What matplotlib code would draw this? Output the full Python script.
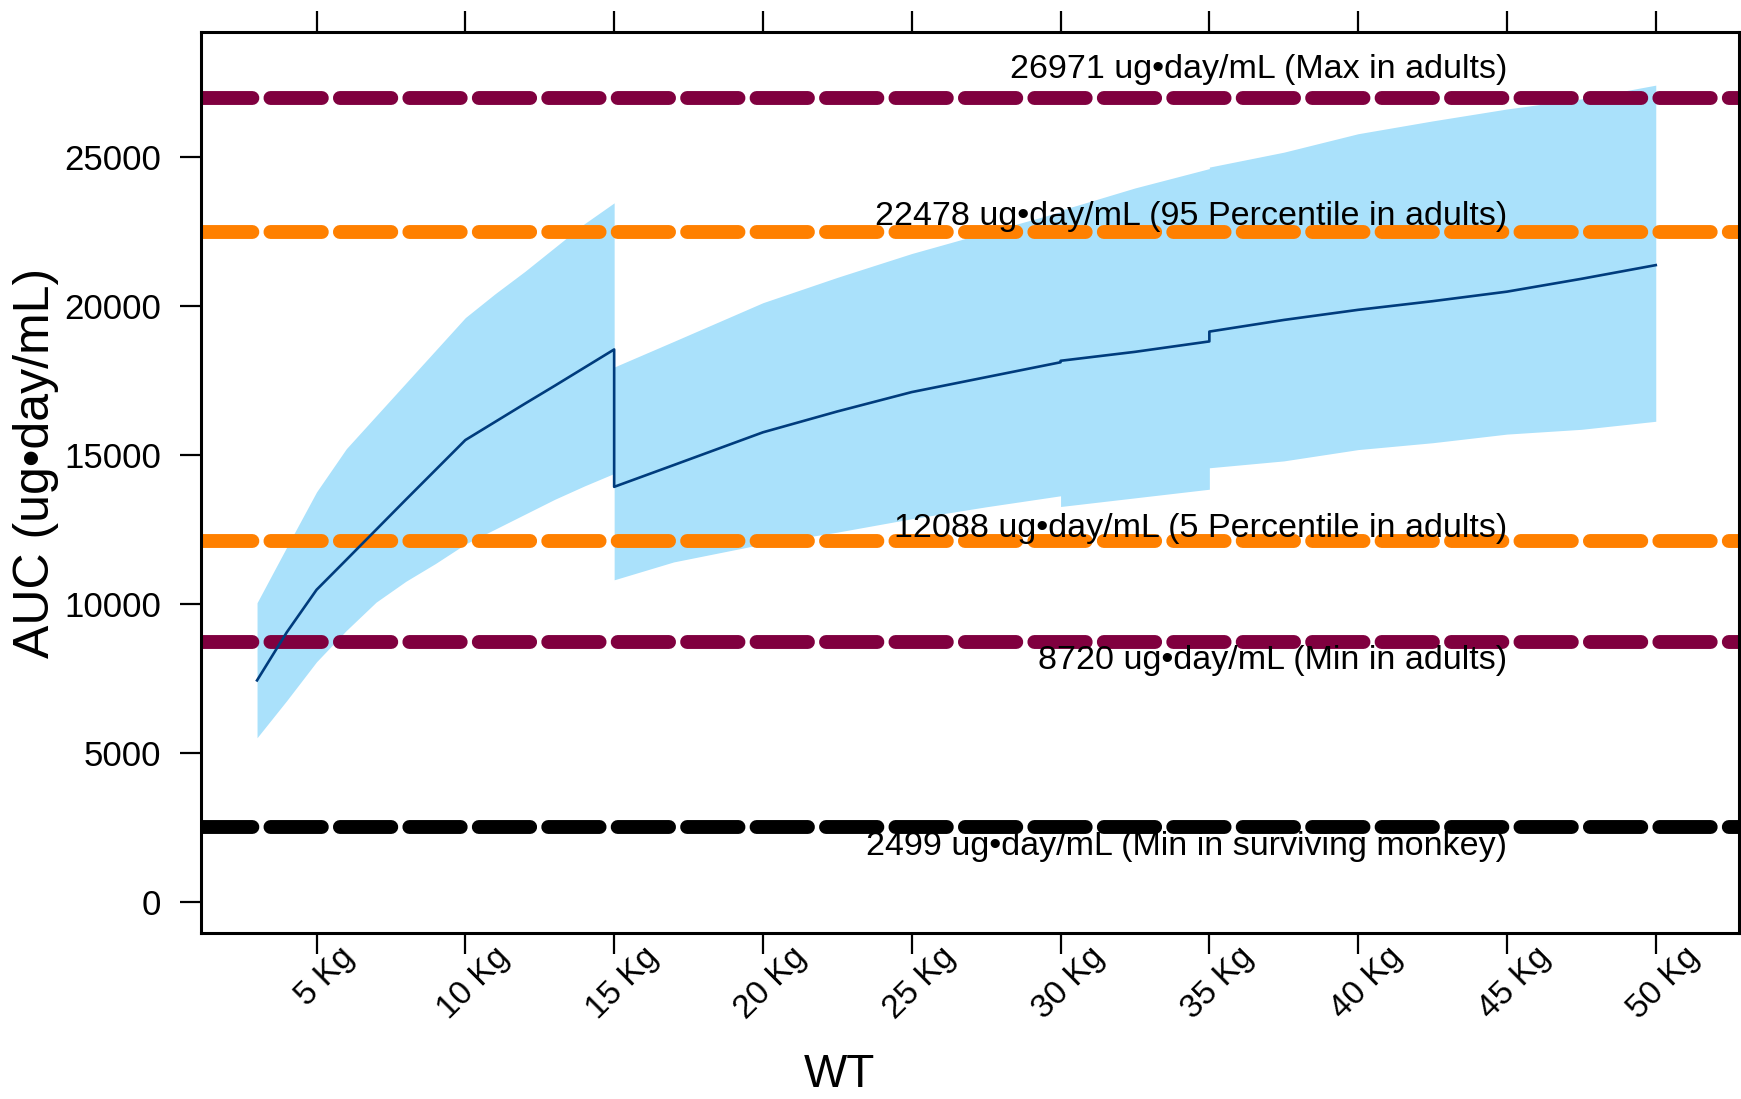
import matplotlib
matplotlib.use('Agg')
import matplotlib.pyplot as plt
import matplotlib.transforms as mtrans

# weight (kg) and AUC median / 5th / 95th percentile, first dosing band (3-15 kg)
wt_a = [3, 4, 5, 6, 7, 8, 9, 10, 11, 12, 13, 14, 15]
med_a = [7425, 9040, 10465, 11470, 12480, 13490, 14490, 15490, 16100, 16710, 17310, 17920, 18530]
lo_a = [5500, 6750, 8050, 9100, 10050, 10750, 11350, 12000, 12500, 13000, 13500, 13950, 14370]
hi_a = [10030, 11900, 13750, 15200, 16300, 17400, 18500, 19600, 20400, 21150, 21950, 22750, 23450]

# second dosing band (15-50 kg)
wt_b = [15, 17, 20, 22.5, 25, 27.5, 30, 30, 32.5, 35, 35, 37.5, 40, 42.5, 45, 47.5, 50]
med_b = [13920, 14650, 15750, 16450, 17100, 17600, 18100, 18150, 18450, 18800, 19130, 19520, 19860, 20150, 20470, 20900, 21360]
lo_b = [10800, 11400, 12000, 12400, 12850, 13250, 13620, 13260, 13550, 13840, 14560, 14790, 15170, 15400, 15690, 15850, 16120]
hi_b = [17940, 18800, 20100, 20950, 21750, 22450, 23150, 23200, 23950, 24600, 24650, 25150, 25770, 26200, 26600, 26940, 27400]

# reference exposures
ref_vals = [26971, 22478, 12088, 8720, 2499]
ref_cols = ['#80003f', '#ff8000', '#ff8000', '#80003f', '#000000']
ref_text = ['26971 ug\u2022day/mL (Max in adults)',
            '22478 ug\u2022day/mL (95 Percentile in adults)',
            '12088 ug\u2022day/mL (5 Percentile in adults)',
            '8720 ug\u2022day/mL (Min in adults)',
            '2499 ug\u2022day/mL (Min in surviving monkey)']
ref_off = [950, 500, 430, -640, -640]

xticks = [5, 10, 15, 20, 25, 30, 35, 40, 45, 50]
xlabels = ['%d Kg' % v for v in xticks]
yticks = [0, 5000, 10000, 15000, 20000, 25000]

fam = ['Liberation Sans', 'DejaVu Sans']

fig = plt.figure(figsize=(17.41, 10.99), dpi=100)
ax = fig.add_axes([0.1155, 0.151, 0.8834, 0.8199])

band = '#aae1fb'
ax.fill_between(wt_a, lo_a, hi_a, color=band, lw=0, zorder=1)
ax.fill_between(wt_b, lo_b, hi_b, color=band, lw=0, zorder=1)
ax.plot(wt_a + wt_b, med_a + med_b, color='#003c7d', lw=1.9, zorder=3)

for v, c in zip(ref_vals, ref_cols):
    ax.axhline(v, color=c, lw=10, dashes=(3.7, 1.3), dash_capstyle='round', zorder=2)
for v, t, o in zip(ref_vals, ref_text, ref_off):
    ax.text(45, v + o, t, ha='right', va='center', fontsize=24.5, family=fam, zorder=4)

ax.set_xlim(1.12, 52.8)
ax.set_ylim(-1054, 29184)
ax.set_xticks(xticks)
ax.set_xticklabels(xlabels, rotation=45, ha='center', va='top', fontsize=24, family=fam)
ax.set_yticks(yticks)
ax.set_yticklabels([str(v) for v in yticks], fontsize=25, family=fam)
ax.tick_params(axis='both', direction='out', length=15, width=1.6, top=True, right=False)
ax.tick_params(axis='x', pad=-9)
ax.tick_params(axis='y', pad=14)
shift = mtrans.ScaledTranslation(6 / 72, 0, fig.dpi_scale_trans)
for lab in ax.get_xticklabels():
    lab.set_transform(lab.get_transform() + shift)
for s in ax.spines.values():
    s.set_linewidth(2.2)
    s.set_clip_on(False)

fig.text(36 / 1741, 1 - 463 / 1099, 'AUC (ug\u2022day/mL)', rotation=90, ha='center', va='center',
         fontsize=36, family=fam)
fig.text(839 / 1741, 1 - 1075 / 1099, 'WT', ha='center', va='center', fontsize=33, family=fam)

fig.savefig('out.png', dpi=100)
